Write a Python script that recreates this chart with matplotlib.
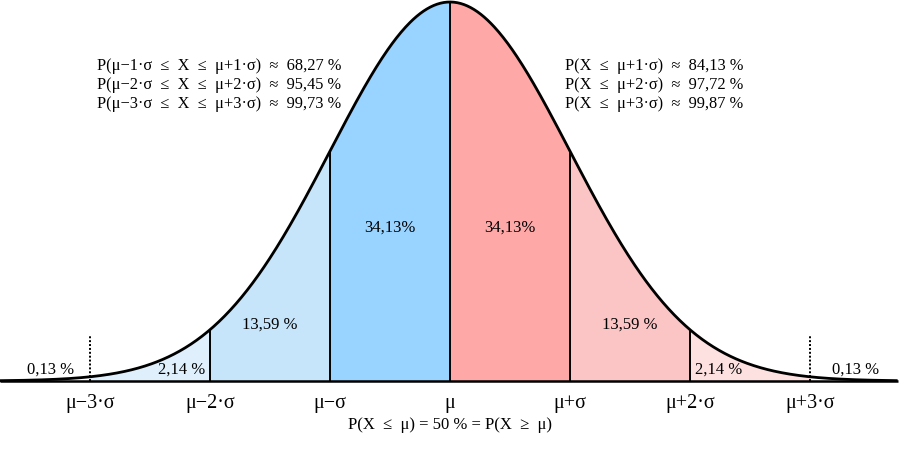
import numpy as np
import matplotlib
matplotlib.use("Agg")
import matplotlib.pyplot as plt

plt.rcParams['font.family'] = ['Liberation Serif', 'DejaVu Serif']

# sigma bands and labels
band_edges = [-3.75, -3, -2, -1, 0, 1, 2, 3, 3.73]
band_colors = ['#ffffff', '#dff0fc', '#c6e4fa', '#99d3ff',
               '#ffa8a8', '#fcc5c5', '#fde0e0', '#ffffff']
tick_pos = [-3, -2, -1, 0, 1, 2, 3]
tick_labels = ['μ−3·σ', 'μ−2·σ', 'μ−σ', 'μ', 'μ+σ', 'μ+2·σ', 'μ+3·σ']
area_labels = ['0,13 %', '2,14 %', '13,59 %', '34,13%',
               '34,13%', '13,59 %', '2,14 %', '0,13 %']
area_x = [-3.33, -2.24, -1.5, -0.5, 0.5, 1.5, 2.24, 3.38]
area_y = [0.03, 0.03, 0.15, 0.405, 0.405, 0.15, 0.03, 0.03]
left_lines = ['P(μ−1·σ  ≤  X  ≤  μ+1·σ)  ≈  68,27 %',
              'P(μ−2·σ  ≤  X  ≤  μ+2·σ)  ≈  95,45 %',
              'P(μ−3·σ  ≤  X  ≤  μ+3·σ)  ≈  99,73 %']
right_lines = ['P(X  ≤  μ+1·σ)  ≈  84,13 %',
               'P(X  ≤  μ+2·σ)  ≈  97,72 %',
               'P(X  ≤  μ+3·σ)  ≈  99,87 %']
bottom_note = 'P(X  ≤  μ) = 50 % = P(X  ≥  μ)'


def pdf(x):
    return np.exp(-0.5 * x ** 2)


fig = plt.figure(figsize=(9.2, 4.58), dpi=100)
ax = fig.add_axes([0, 0, 1, 1])
ax.set_xlim(-450 / 120, 470 / 120)
ax.set_ylim(-77 / 379, 381 / 379)
ax.axis('off')

for i in range(len(band_edges) - 1):
    xs = np.linspace(band_edges[i], band_edges[i + 1], 200)
    ax.fill_between(xs, 0, pdf(xs), color=band_colors[i], lw=0)

for p in [-2, -1, 0, 1, 2]:
    ax.plot([p, p], [0, pdf(p)], color='black', lw=1.4)
for p in [-3, 3]:
    ax.plot([p, p], [0, 0.12], color='black', lw=1.4, ls=(0, (1, 1)))

xs = np.linspace(band_edges[0], band_edges[-1], 800)
ax.plot(xs, pdf(xs), color='black', lw=2.0, solid_capstyle='butt')
ax.plot([band_edges[0], band_edges[-1]], [0, 0], color='black', lw=1.8,
        solid_capstyle='butt')

for x, y, s in zip(area_x, area_y, area_labels):
    ax.text(x, y, s, ha='center', va='center', fontsize=12)

for x, s in zip(tick_pos, tick_labels):
    ax.text(x, -0.06, s, ha='center', va='center', fontsize=14.5)

ax.text(0, -0.115, bottom_note, ha='center', va='center', fontsize=12)

for i, s in enumerate(left_lines):
    ax.text(-353 / 120, (381 - 66 - 19 * i) / 379, s, ha='left',
            va='center', fontsize=11.8)
for i, s in enumerate(right_lines):
    ax.text(115 / 120, (381 - 66 - 19 * i) / 379, s, ha='left',
            va='center', fontsize=11.8)

fig.savefig('out.png', dpi=100)
